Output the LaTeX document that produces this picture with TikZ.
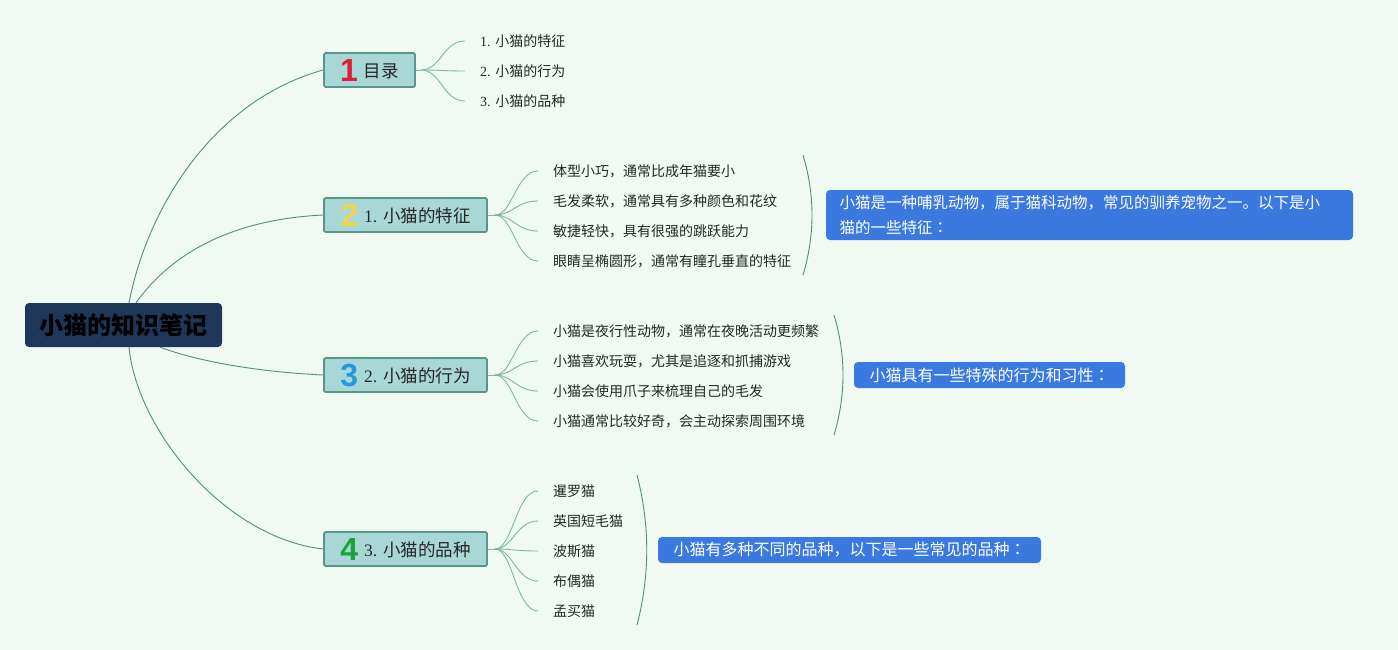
\documentclass[tikz,border=0pt]{standalone}
\usepackage{fontspec}
\setmainfont{Liberation Serif}
\setsansfont{Liberation Sans}
\newfontfamily\cjk{Noto Sans CJK SC}
\newfontfamily\cjktc{Noto Sans CJK TC}
\definecolor{bg}{RGB}{240,250,242}
\definecolor{rootfill}{RGB}{30,56,90}
\definecolor{brfill}{RGB}{168,216,214}
\definecolor{brdraw}{RGB}{88,150,136}
\definecolor{sumblue}{RGB}{58,122,224}
\definecolor{lnk}{RGB}{80,145,125}
\definecolor{lnklight}{RGB}{125,185,160}
\definecolor{numa}{RGB}{222,30,60}
\definecolor{numb}{RGB}{240,212,80}
\definecolor{numc}{RGB}{40,150,225}
\definecolor{numd}{RGB}{30,160,60}
\newcommand\latn[1]{{\rmfamily #1}}
\newcommand\fwc{{\cjktc ：}}
\newcommand\bnum[2]{\raisebox{-4pt}[\height][\depth]{\sffamily\bfseries\fontsize{32}{32}\selectfont\color{#1}#2}}
\newcommand\brtext[1]{\raisebox{2.5pt}[\height][\depth]{#1}}
\tikzset{
  rootbox/.style={fill=rootfill, rounded corners=4pt, minimum width=197pt, minimum height=44pt,
    inner sep=0pt, font=\cjk\bfseries\fontsize{24}{28}\selectfont, text=black},
  branchbox/.style={fill=brfill, draw=brdraw, line width=1.8pt, rounded corners=2pt,
    minimum height=34pt, inner sep=0pt, font=\cjk\fontsize{17.5}{20}\selectfont, text=black!85},
  childtext/.style={anchor=west, inner xsep=15pt, inner ysep=2pt,
    font=\cjk\fontsize{14}{16}\selectfont, text=black!85},
  sumbox/.style={fill=sumblue, rounded corners=4pt, inner sep=0pt, text=white,
    font=\cjk\fontsize{16}{25}\selectfont},
  rootlink/.style={draw=lnk, line width=0.9pt},
  childlink/.style={draw=lnklight, line width=0.9pt},
}
\begin{document}
\begin{tikzpicture}[x=1pt,y=-1pt]
\fill[bg] (0,0) rectangle (1398,650);
\useasboundingbox (0,0) rectangle (1398,650);

% root and branches
\node[rootbox] (root) at (123.5,325) {小猫的知识笔记};
\node[branchbox, minimum width=91pt] (b1) at (369.5,70) {\brtext{\bnum{numa}{1}\hspace{6pt}目录}};
\node[branchbox, minimum width=163pt] (b2) at (405.5,215) {\brtext{\bnum{numb}{2}\hspace{6pt}\latn{1. }小猫的特征}};
\node[branchbox, minimum width=163pt] (b3) at (405.5,375) {\brtext{\bnum{numc}{3}\hspace{6pt}\latn{2. }小猫的行为}};
\node[branchbox, minimum width=163pt] (b4) at (405.5,549) {\brtext{\bnum{numd}{4}\hspace{6pt}\latn{3. }小猫的品种}};

\draw[rootlink] ([xshift=5.5pt]root.north) .. controls (148,205) and (215,100) .. (b1.west);
\draw[rootlink] ([xshift=12.5pt]root.north) .. controls (165,262) and (220,220) .. (b2.west);
\draw[rootlink] ([xshift=36.5pt]root.south) .. controls (200,362) and (260,372) .. (b3.west);
\draw[rootlink] ([xshift=5.5pt]root.south) .. controls (137,430) and (225,538) .. (b4.west);

% branch 1 children
\node[childtext] (c11) at (465,41) {\latn{1. }小猫的特征};
\node[childtext] (c12) at (465,71) {\latn{2. }小猫的行为};
\node[childtext] (c13) at (465,101) {\latn{3. }小猫的品种};
\coordinate (h1) at ([xshift=5pt]b1.east);
\draw[childlink] (b1.east) -- (h1);
\foreach \c in {c11,c12,c13}
  \draw[childlink] (h1) .. controls +(20,0) and +(-22,0) .. (\c.west);

% branch 2 children
\node[childtext] (c21) at (538,171) {体型小巧，通常比成年猫要小};
\node[childtext] (c22) at (538,201) {毛发柔软，通常具有多种颜色和花纹};
\node[childtext] (c23) at (538,231) {敏捷轻快，具有很强的跳跃能力};
\node[childtext] (c24) at (538,261) {眼睛呈椭圆形，通常有瞳孔垂直的特征};
\coordinate (h2) at ([xshift=7pt]b2.east);
\draw[childlink] (b2.east) -- (h2);
\foreach \c in {c21,c22,c23,c24}
  \draw[childlink] (h2) .. controls +(18,0) and +(-22,0) .. (\c.west);

% branch 3 children
\node[childtext] (c31) at (538,331) {小猫是夜行性动物，通常在夜晚活动更频繁};
\node[childtext] (c32) at (538,361) {小猫喜欢玩耍，尤其是追逐和抓捕游戏};
\node[childtext] (c33) at (538,391) {小猫会使用爪子来梳理自己的毛发};
\node[childtext] (c34) at (538,421) {小猫通常比较好奇，会主动探索周围环境};
\coordinate (h3) at ([xshift=7pt]b3.east);
\draw[childlink] (b3.east) -- (h3);
\foreach \c in {c31,c32,c33,c34}
  \draw[childlink] (h3) .. controls +(18,0) and +(-22,0) .. (\c.west);

% branch 4 children
\node[childtext] (c41) at (538,491) {暹罗猫};
\node[childtext] (c42) at (538,521) {英国短毛猫};
\node[childtext] (c43) at (538,551) {波斯猫};
\node[childtext] (c44) at (538,581) {布偶猫};
\node[childtext] (c45) at (538,611) {孟买猫};
\coordinate (h4) at ([xshift=7pt]b4.east);
\draw[childlink] (b4.east) -- (h4);
\foreach \c in {c41,c42,c43,c44,c45}
  \draw[childlink] (h4) .. controls +(18,0) and +(-22,0) .. (\c.west);

% brackets
\draw[rootlink] (803,155) .. controls (815,195) and (815,235) .. (803,275);
\draw[rootlink] (834,315) .. controls (846,355) and (846,395) .. (834,435);
\draw[rootlink] (637,475) .. controls (650,525) and (650,575) .. (637,625);

% summaries
\node[sumbox, minimum width=527pt, minimum height=50pt, text width=500pt, align=left,
  font=\cjk\fontsize{15.5}{25}\selectfont] (s2) at (1089.5,215)
  {小猫是一种哺乳动物，属于猫科动物，常见的驯养宠物之一。以下是小\\猫的一些特征\fwc};
\node[sumbox, minimum width=271pt, minimum height=26pt] (s3) at (989.5,375) {小猫具有一些特殊的行为和习性\fwc};
\node[sumbox, minimum width=383pt, minimum height=26pt] (s4) at (849.5,550) {小猫有多种不同的品种，以下是一些常见的品种\fwc};
\end{tikzpicture}
\end{document}
